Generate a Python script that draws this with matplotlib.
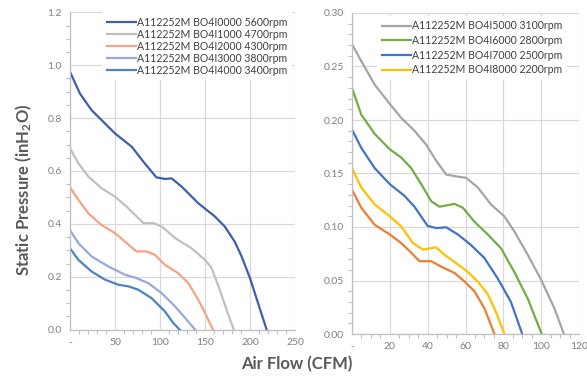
import matplotlib
matplotlib.use("Agg")
import matplotlib.pyplot as plt
from matplotlib.ticker import MultipleLocator, FuncFormatter

plt.rcParams['font.family'] = ['Lato', 'DejaVu Sans']
plt.rcParams['mathtext.fontset'] = 'custom'
plt.rcParams['mathtext.rm'] = 'Lato:bold'
plt.rcParams['mathtext.it'] = 'Lato:bold'
plt.rcParams['mathtext.bf'] = 'Lato:bold'

# Left chart: higher speed models (CFM, inH2O)
left_labels = ["A112252M BO4I0000 5600rpm", "A112252M BO4I1000 4700rpm",
               "A112252M BO4I2000 4300rpm", "A112252M BO4I3000 3800rpm",
               "A112252M BO4I4000 3400rpm"]
left_colors = ["#3d5fae", "#c0c0c0", "#f4a384", "#98a8de", "#4b83c2"]

s5600_x = [0, 11, 24, 37, 50, 68.5, 83, 96, 105.5, 113, 124, 142.6, 161, 172, 183, 190.7, 200, 209, 218.5]
s5600_y = [0.975, 0.893, 0.83, 0.786, 0.742, 0.692, 0.629, 0.576, 0.57, 0.572, 0.541, 0.478, 0.428, 0.39, 0.333, 0.277, 0.195, 0.10, 0.0]
s4700_x = [0, 9.3, 20.4, 35, 50, 63, 81.5, 92.6, 102, 117, 135, 150, 157.4, 165, 174, 182]
s4700_y = [0.686, 0.629, 0.579, 0.535, 0.503, 0.465, 0.403, 0.403, 0.39, 0.346, 0.308, 0.264, 0.233, 0.164, 0.075, 0.0]
s4300_x = [0, 9.3, 20.4, 35, 50, 61, 74, 85, 94.4, 105.5, 120, 131.5, 142.6, 150, 159]
s4300_y = [0.538, 0.491, 0.44, 0.396, 0.365, 0.333, 0.296, 0.296, 0.283, 0.245, 0.214, 0.176, 0.113, 0.063, 0.0]
s3800_x = [0, 9.3, 24, 42.6, 61, 74, 87, 102, 116.7, 128, 139]
s3800_y = [0.377, 0.327, 0.277, 0.239, 0.208, 0.195, 0.176, 0.138, 0.088, 0.044, 0.0]
s3400_x = [0, 9.3, 24, 39, 53.7, 64.8, 76, 90.7, 105.5, 114.8, 122]
s3400_y = [0.308, 0.264, 0.22, 0.189, 0.17, 0.164, 0.151, 0.119, 0.069, 0.025, 0.0]

# Right chart: lower speed models
right_labels = ["A112252M BO4I5000 3100rpm", "A112252M BO4I6000 2800rpm",
                "A112252M BO4I7000 2500rpm", "A112252M BO4I8000 2200rpm"]
right_colors = ["#a5a5a5", "#70ad47", "#4472c4", "#ffc000", "#ed7d31"]

s3100_x = [0, 4.9, 12, 20, 26, 33, 39.2, 44.5, 49.8, 56, 60.3, 66.5, 73.5, 80.5, 85.8, 92.9, 99.9, 107, 112]
s3100_y = [0.271, 0.255, 0.233, 0.215, 0.202, 0.19, 0.177, 0.162, 0.149, 0.147, 0.146, 0.137, 0.121, 0.11, 0.096, 0.074, 0.051, 0.024, 0.0]
s2800_x = [0, 4.9, 12, 20, 26, 31.3, 36.6, 41.9, 46.3, 54.2, 58.6, 64.7, 71.8, 78.8, 85.8, 92.9, 100.3]
s2800_y = [0.23, 0.205, 0.187, 0.1725, 0.165, 0.155, 0.14, 0.124, 0.119, 0.1216, 0.118, 0.105, 0.093, 0.08, 0.058, 0.033, 0.0]
s2500_x = [0, 4.9, 12, 20, 27.8, 33, 40, 44.5, 49.8, 56, 63, 70, 77, 84, 90]
s2500_y = [0.191, 0.174, 0.155, 0.14, 0.129, 0.119, 0.101, 0.099, 0.0997, 0.093, 0.083, 0.071, 0.052, 0.03, 0.0]
s2200_x = [0, 4.9, 12, 20, 26, 32.2, 37.5, 44.5, 48.9, 56, 61.2, 66.5, 71.8, 76, 80.6]
s2200_y = [0.155, 0.137, 0.121, 0.11, 0.1006, 0.085, 0.079, 0.081, 0.074, 0.065, 0.058, 0.049, 0.037, 0.021, 0.0]
sext_x = [0, 4.9, 12, 20, 26, 31.3, 35.7, 41.9, 47.1, 54.2, 59.5, 64.7, 70, 75.3]
sext_y = [0.135, 0.118, 0.102, 0.093, 0.085, 0.076, 0.068, 0.068, 0.063, 0.057, 0.049, 0.04, 0.024, 0.0]

TICK_C = "#808080"
GRID_C = "#d9d9d9"
LABEL_C = "#595959"

fig = plt.figure(figsize=(5.87, 3.77), dpi=100)
ax1 = fig.add_axes([70/587, 1 - 329.7/377, 225/587, 317.4/377])
ax2 = fig.add_axes([352/587, 1 - 334/377, 227/587, 321/377])


def style_axes(ax, xmax, xmaj, xmin, ymax, ymaj, ymin, yfmt):
    ax.set_xlim(0, xmax)
    ax.set_ylim(0, ymax)
    ax.xaxis.set_major_locator(MultipleLocator(xmaj))
    ax.xaxis.set_minor_locator(MultipleLocator(xmin))
    ax.yaxis.set_major_locator(MultipleLocator(ymaj))
    ax.yaxis.set_minor_locator(MultipleLocator(ymin))
    ax.xaxis.set_major_formatter(FuncFormatter(lambda v, p: "-" if v == 0 else f"{v:.0f}"))
    ax.yaxis.set_major_formatter(FuncFormatter(lambda v, p: yfmt.format(v)))
    ax.grid(True, which="major", color=GRID_C, linewidth=0.9)
    ax.set_axisbelow(True)
    for side in ["top", "right"]:
        ax.spines[side].set_visible(False)
    for side in ["left", "bottom"]:
        ax.spines[side].set_color("#bfbfbf")
        ax.spines[side].set_linewidth(0.9)
    ax.tick_params(which="major", length=0, labelsize=7.5, labelcolor=TICK_C, pad=6)
    ax.tick_params(which="minor", length=3, color="#bfbfbf", width=0.8)


style_axes(ax1, 250, 50, 10, 1.2, 0.2, 0.05, "{:.1f}")
style_axes(ax2, 120, 20, 5, 0.30, 0.05, 0.01, "{:.2f}")

left_series = [(s5600_x, s5600_y), (s4700_x, s4700_y), (s4300_x, s4300_y),
               (s3800_x, s3800_y), (s3400_x, s3400_y)]
for (x, y), lab, c in zip(left_series, left_labels, left_colors):
    ax1.plot(x, y, color=c, lw=1.6, label=lab, solid_joinstyle="round")

right_series = [(s3100_x, s3100_y), (s2800_x, s2800_y), (s2500_x, s2500_y),
                (s2200_x, s2200_y), (sext_x, sext_y)]
right_names = right_labels + ["_nolegend_"]
for (x, y), lab, c in zip(right_series, right_names, right_colors):
    ax2.plot(x, y, color=c, lw=1.6, label=lab, solid_joinstyle="round")

for ax, anchor, spacing in [(ax1, (1.0, 1.01), 0.1), (ax2, (0.96, 1.0), 0.35)]:
    leg = ax.legend(loc="upper right", bbox_to_anchor=anchor, fontsize=7.6,
                    frameon=True, fancybox=False, framealpha=1.0,
                    handlelength=2.8, handletextpad=0.1, labelspacing=spacing,
                    borderpad=0.4, borderaxespad=0.3)
    leg.get_frame().set_edgecolor("white")
    leg.get_frame().set_linewidth(0)
    for t in leg.get_texts():
        t.set_color("#404040")

fig.text(24/587, 1 - 190/377, "Static Pressure (inH$_2$O)", rotation=90,
         ha="center", va="center", fontsize=12, fontweight="bold", color=LABEL_C)
fig.text(297/587, 1 - 364/377, "Air Flow (CFM)", ha="center", va="center",
         fontsize=12, fontweight="bold", color=LABEL_C)

fig.savefig("out.png", dpi=100)
